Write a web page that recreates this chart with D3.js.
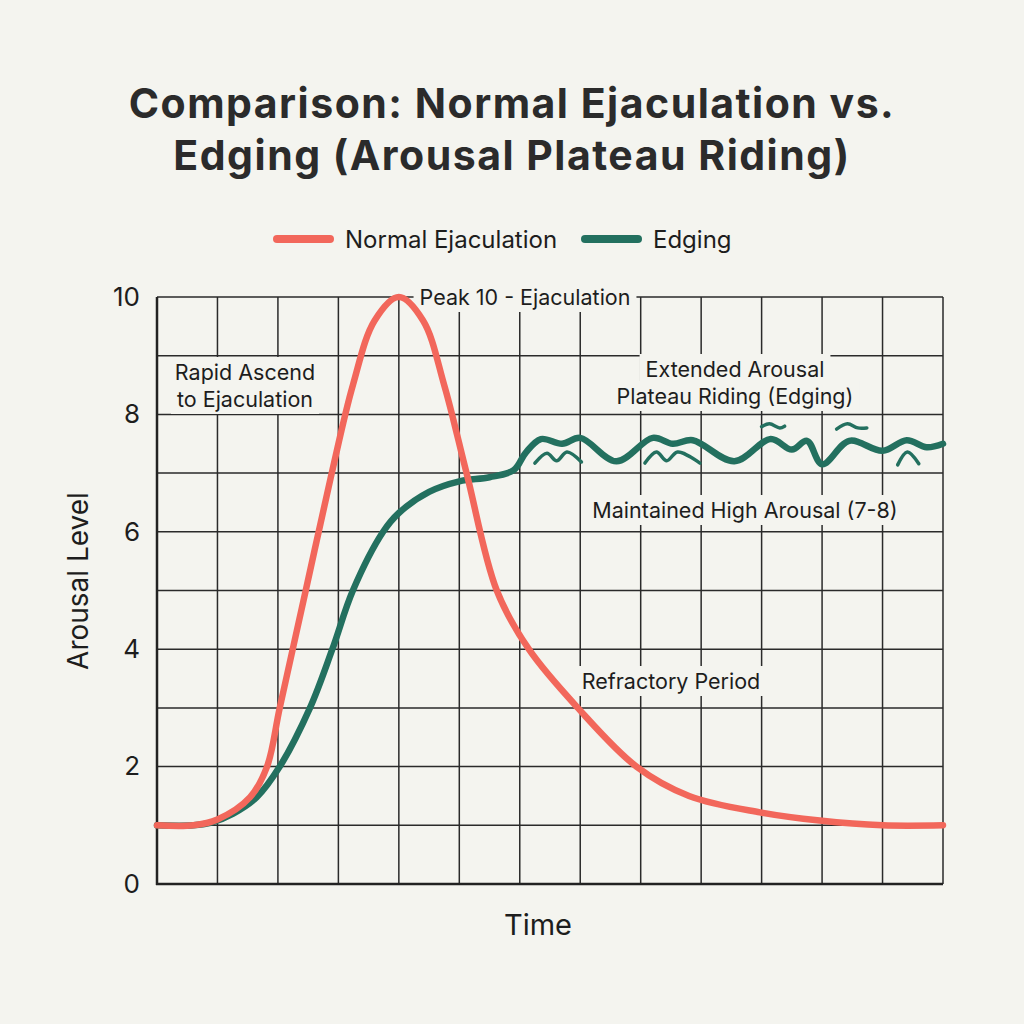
<!DOCTYPE html>
<html lang="en">
<head>
    <meta charset="UTF-8">
    <title>Normal Ejaculation vs Edging</title>
    <script src="https://d3js.org/d3.v7.min.js"></script>
    <style>
        body { margin: 0; background: #f4f4ef; }
        text { font-family: Inter, "Noto Sans", sans-serif; fill: #1d1d1d; }
    </style>
</head>
<body>
</body>
<script>
    // time in grid units (0..13), arousal 0..10
    const normalX = [0, 0.6, 1.0, 1.54, 1.82, 2.03, 2.46, 2.89, 3.24, 3.6, 4.0, 4.4, 4.75, 5.12, 5.62, 6.15, 6.96, 7.93, 8.8, 9.97, 10.96, 12, 13];
    const normalY = [1, 1, 1.1, 1.48, 2.0, 3, 5, 7, 8.5, 9.6, 10, 9.6, 8.5, 7, 5, 4, 3, 2, 1.5, 1.22, 1.08, 1.0, 1.0];

    const edgingX = [0, 0.6, 0.88, 1.26, 1.65, 2.03, 2.53, 2.9, 3.24, 3.74, 4.0, 4.5, 5.0, 5.5, 5.9, 6.1, 6.35, 6.7, 7.0, 7.6, 8.2, 8.53, 8.86, 9.55, 10.15, 10.5, 10.75, 11.0, 11.45, 12.0, 12.4, 12.73, 13];
    const edgingY = [1, 1, 1.04, 1.2, 1.48, 2, 3, 4, 5, 6, 6.32, 6.68, 6.86, 6.93, 7.05, 7.35, 7.58, 7.5, 7.6, 7.2, 7.6, 7.5, 7.56, 7.2, 7.58, 7.4, 7.55, 7.15, 7.55, 7.38, 7.56, 7.44, 7.5];

    // little stray squiggles drawn around the edging plateau
    const squiggles = [
        [[6.25, 7.17], [6.45, 7.34], [6.61, 7.21], [6.78, 7.36], [7.02, 7.19]],
        [[8.07, 7.17], [8.26, 7.36], [8.43, 7.21], [8.61, 7.36], [8.98, 7.17]],
        [[10.0, 7.79], [10.13, 7.84], [10.3, 7.77], [10.38, 7.8]],
        [[11.24, 7.75], [11.42, 7.84], [11.59, 7.77], [11.74, 7.77]],
        [[12.25, 7.14], [12.41, 7.36], [12.6, 7.16]]
    ];

    const yTicks = [0, 2, 4, 6, 8, 10];
    const seriesNames = ["Normal Ejaculation", "Edging"];
    const seriesColors = ["#f2675b", "#23705f"];

    const notes = [
        {lines: ["Peak 10 - Ejaculation"], x: 525, y: 305},
        {lines: ["Rapid Ascend", "to Ejaculation"], x: 245, y: 380},
        {lines: ["Extended Arousal", "Plateau Riding (Edging)"], x: 735, y: 377},
        {lines: ["Maintained High Arousal (7-8)"], x: 745, y: 518},
        {lines: ["Refractory Period"], x: 671, y: 689}
    ];

    const WIDTH = 1024, HEIGHT = 1024;
    const pLeft = 157, pRight = 943, pTop = 297, pBottom = 884;
    const BG = "#f4f4ef";

    const svg = d3.select("body").append("svg").attr("width", WIDTH).attr("height", HEIGHT);
    svg.append("rect").attr("width", WIDTH).attr("height", HEIGHT).attr("fill", BG);

    const x = d3.scaleLinear().domain([0, 13]).range([pLeft, pRight]);
    const y = d3.scaleLinear().domain([0, 10]).range([pBottom, pTop]);

    // title
    svg.append("text").attr("x", 512).attr("y", 0).attr("text-anchor", "middle")
        .style("font-size", "41px").style("font-weight", 700).style("letter-spacing", "1.5px").style("fill", "#2b2b2b")
        .selectAll("tspan").data(["Comparison: Normal Ejaculation vs.", "Edging (Arousal Plateau Riding)"])
        .join("tspan").attr("x", 512).attr("y", (d, i) => 118 + i * 52).text(d => d);

    // legend
    const legend = svg.append("g");
    const legX = [277, 585];
    seriesNames.forEach((name, i) => {
        legend.append("line").attr("x1", legX[i]).attr("x2", legX[i] + 53).attr("y1", 239).attr("y2", 239)
            .attr("stroke", seriesColors[i]).attr("stroke-width", 8).attr("stroke-linecap", "round");
        legend.append("text").attr("x", legX[i] + 68).attr("y", 248).style("font-size", "24px").text(name);
    });

    // grid
    const grid = svg.append("g").attr("stroke", "#2a2a2a").attr("stroke-width", 1.5);
    grid.selectAll(".v").data(d3.range(1, 14)).join("line").attr("class", "v")
        .attr("x1", d => x(d)).attr("x2", d => x(d)).attr("y1", pTop).attr("y2", pBottom);
    grid.selectAll(".h").data(d3.range(1, 11)).join("line").attr("class", "h")
        .attr("x1", pLeft).attr("x2", pRight).attr("y1", d => y(d)).attr("y2", d => y(d));

    // axis lines
    svg.append("line").attr("x1", pLeft).attr("x2", pLeft).attr("y1", pTop).attr("y2", pBottom + 1)
        .attr("stroke", "#222").attr("stroke-width", 2.5);
    svg.append("line").attr("x1", pLeft - 1).attr("x2", pRight).attr("y1", pBottom).attr("y2", pBottom)
        .attr("stroke", "#222").attr("stroke-width", 2.5);

    const yAxis = svg.append("g").attr("transform", `translate(${pLeft},0)`)
        .call(d3.axisLeft(y).tickValues(yTicks).tickSize(0).tickPadding(17));
    yAxis.select(".domain").remove();
    yAxis.selectAll("text").style("font-size", "26px").style("font-family", "Inter, 'Noto Sans', sans-serif").attr("fill", "#1d1d1d");

    svg.append("text").attr("transform", "translate(88,581) rotate(-90)").attr("text-anchor", "middle")
        .style("font-size", "28px").text("Arousal Level");
    svg.append("text").attr("x", 538).attr("y", 935).attr("text-anchor", "middle")
        .style("font-size", "29px").text("Time");

    // annotations with background patches
    const noteG = svg.append("g");
    notes.forEach(n => {
        n.lines.forEach((t, i) => {
            const txt = noteG.append("text").attr("x", n.x).attr("y", n.y + i * 27)
                .attr("text-anchor", "middle").style("font-size", "21.5px").text(t);
            const b = txt.node().getBBox();
            noteG.insert("rect", () => txt.node())
                .attr("x", b.x - 6).attr("y", b.y - 2).attr("width", b.width + 12).attr("height", b.height + 4)
                .attr("fill", BG);
        });
    });

    // curves
    const line = d3.line().x(d => x(d[0])).y(d => y(d[1])).curve(d3.curveCatmullRom.alpha(0.5));
    const normalData = normalX.map((v, i) => [v, normalY[i]]);
    const edgingData = edgingX.map((v, i) => [v, edgingY[i]]);

    svg.append("path").datum(edgingData).attr("d", line).attr("fill", "none")
        .attr("stroke", seriesColors[1]).attr("stroke-width", 6.5).attr("stroke-linecap", "round");
    svg.append("path").datum(normalData).attr("d", line).attr("fill", "none")
        .attr("stroke", seriesColors[0]).attr("stroke-width", 6.5).attr("stroke-linecap", "round");

    const squig = d3.line().x(d => x(d[0])).y(d => y(d[1])).curve(d3.curveCatmullRom);
    svg.selectAll(".sq").data(squiggles).join("path").attr("class", "sq").attr("d", squig).attr("fill", "none")
        .attr("stroke", seriesColors[1]).attr("stroke-width", 3.5).attr("stroke-linecap", "round");
</script>
</html>
